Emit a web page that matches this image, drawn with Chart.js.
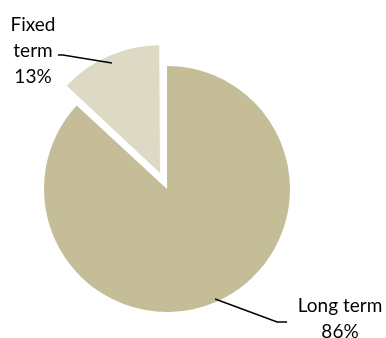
<!DOCTYPE html>
<html>
<head>
<meta charset="utf-8">
<script src="https://cdn.jsdelivr.net/npm/chart.js@4"></script>
<style>
  html, body { margin: 0; padding: 0; background: #fff; overflow: hidden; }
  #wrap { position: relative; width: 386px; height: 352px; }
</style>
</head>
<body>
<div id="wrap"><canvas id="pie"></canvas></div>
<script>
// slice data
const categories = ['Long term', 'Fixed term'];
const shares = [86, 13];
const percentLabels = ['86%', '13%'];
const sliceColors = ['#c4bd97', '#ddd9c4'];

// Chart.js v4 moves an arc by offset / 4, so 70 explodes the slice ~17px
const explode = [0, 70];

// draws Excel-style callout labels with leader lines at each slice's mid angle
const calloutPlugin = {
  id: 'callouts',
  afterDraw(chart) {
    const ctx = chart.ctx;
    const arcs = chart.getDatasetMeta(0).data;
    // label layout: elbow offset from the edge point, text anchor, lines
    const layout = [
      { elbow: [62, 23], end: [72, 23], text: [340, 312], lines: [categories[0], percentLabels[0]] },
      { elbow: [-49, -8], end: [-54, -8], text: [33, 31], lines: ['Fixed', 'term', percentLabels[1]] },
    ];
    ctx.save();
    ctx.strokeStyle = '#000';
    ctx.lineWidth = 1.5;
    ctx.fillStyle = '#000';
    ctx.font = '19px Lato';
    ctx.textAlign = 'center';
    ctx.textBaseline = 'alphabetic';
    arcs.forEach((arc, i) => {
      const p = arc.getProps(['x', 'y', 'startAngle', 'endAngle', 'outerRadius'], true);
      const mid = (p.startAngle + p.endAngle) / 2;
      const off = (explode[i] || 0) / 4;
      const cx = p.x + Math.cos(mid) * off;
      const cy = p.y + Math.sin(mid) * off;
      const r = p.outerRadius - 3;
      const px = cx + Math.cos(mid) * r;
      const py = cy + Math.sin(mid) * r;
      const L = layout[i];
      ctx.beginPath();
      ctx.moveTo(px, py);
      ctx.lineTo(px + L.elbow[0], py + L.elbow[1]);
      ctx.lineTo(px + L.end[0], py + L.end[1]);
      ctx.stroke();
      L.lines.forEach((t, k) => {
        ctx.fillText(t, L.text[0], L.text[1] + k * 26);
      });
    });
    ctx.restore();
  },
};

new Chart(document.getElementById('pie'), {
  type: 'pie',
  data: {
    labels: categories,
    datasets: [{
      data: shares,
      backgroundColor: sliceColors,
      borderWidth: 0,
      offset: explode,
    }],
  },
  options: {
    responsive: true,
    maintainAspectRatio: false,
    animation: false,
    layout: { padding: { left: 9, top: 31, right: 61, bottom: 5 } },
    plugins: {
      legend: { display: false },
      tooltip: { enabled: false },
    },
  },
  plugins: [calloutPlugin],
});
</script>
</body>
</html>
